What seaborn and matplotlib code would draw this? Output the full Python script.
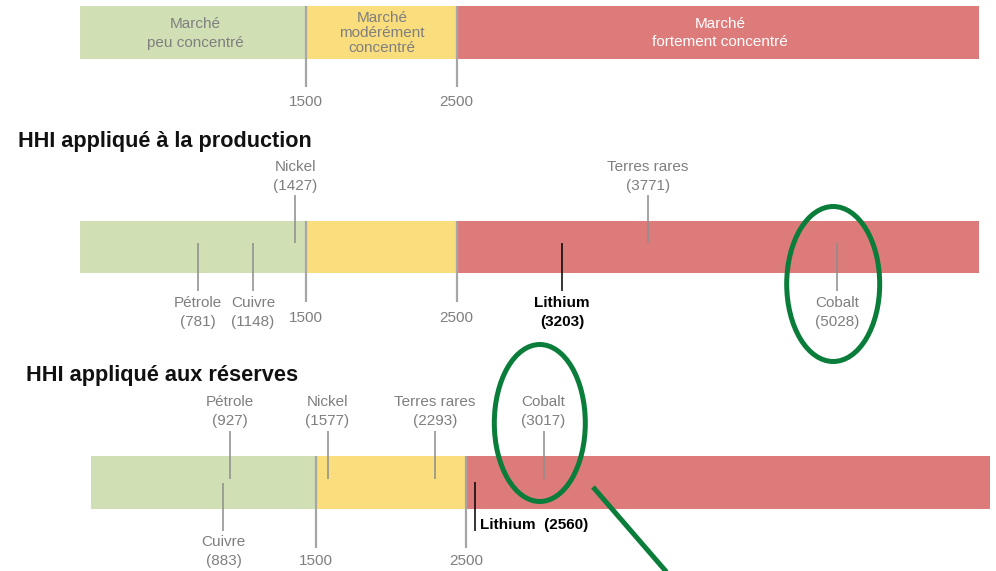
import numpy as np
import matplotlib
matplotlib.use("Agg")
import matplotlib.pyplot as plt
from matplotlib.patches import Ellipse
import seaborn as sns

sns.set_theme(style="white")
plt.rcParams['font.family'] = ['Liberation Sans', 'DejaVu Sans']

# --- Données ---
seuils = [1500, 2500]
zones_debut = [0, 1500, 2500]
zones_couleurs = ["#d0e0b4", "#fadd7d", "#dd7b7b"]
zones_textes = [["Marché", "peu concentré"],
                ["Marché", "modérément", "concentré"],
                ["Marché", "fortement concentré"]]
zones_textes_couleurs = ["#7f7f7f", "#7f7f7f", "white"]

prod_noms = ["Pétrole", "Cuivre", "Nickel", "Lithium", "Terres rares", "Cobalt"]
prod_valeurs = [781, 1148, 1427, 3203, 3771, 5028]
prod_cote = ["bas", "bas", "haut", "bas", "haut", "bas"]

res_noms = ["Pétrole", "Cuivre", "Nickel", "Lithium", "Terres rares", "Cobalt"]
res_valeurs = [927, 883, 1577, 2560, 2293, 3017]
res_cote = ["haut", "bas", "haut", "droite", "haut", "haut"]

gris_txt = "#7f7f7f"
gris_seuil = "#a6a6a6"
vert = "#0b7d3a"
fs = 11

W, H = 996, 571
fig = plt.figure(figsize=(W / 100, H / 100), dpi=100)


def make_ax(x0_px, scale, xmax):
    ax = fig.add_axes([x0_px / W, 0, scale * xmax / W, 1])
    ax.set_xlim(0, xmax)
    ax.set_ylim(H, 0)
    ax.axis("off")
    ax.patch.set_alpha(0)
    return ax


def draw_band(ax, xmax, y_top, y_bot, y_seuil_bas, y_tick):
    ends = zones_debut[1:] + [xmax]
    ax.barh((y_top + y_bot) / 2, np.array(ends) - np.array(zones_debut),
            left=zones_debut, height=y_bot - y_top, color=zones_couleurs,
            edgecolor="none")
    ax.vlines(seuils, y_top, y_seuil_bas, color=gris_seuil, lw=1.6)
    for s in seuils:
        ax.text(s, y_tick, str(s), ha="center", va="center", fontsize=fs,
                color=gris_txt)


def draw_markers(ax, noms, valeurs, cotes, y_top, y_bot, decal):
    y_mid = (y_top + y_bot) / 2
    for nom, val, cote in zip(noms, valeurs, cotes):
        fort = nom == "Lithium"
        col = "black" if fort else gris_txt
        lcol = "black" if fort else "#8c8c8c"
        fw = "bold" if fort else "normal"
        if cote == "haut":
            ax.vlines(val, y_mid - 52, y_mid - 4, color=lcol, lw=1.1)
            ax.text(val, y_mid - 80, nom, ha="center", va="center",
                    fontsize=fs, color=col, fontweight=fw)
            ax.text(val, y_mid - 61, f"({val})", ha="center", va="center",
                    fontsize=fs, color=col, fontweight=fw)
        elif cote == "bas":
            ax.vlines(val, y_mid + decal, y_mid + 48 + decal, color=lcol, lw=1.1)
            ax.text(val, y_mid + 60 + decal, nom, ha="center", va="center",
                    fontsize=fs, color=col, fontweight=fw)
            ax.text(val, y_mid + 79 + decal, f"({val})", ha="center",
                    va="center", fontsize=fs, color=col, fontweight=fw)
        else:
            ax.vlines(val, y_mid - 1, y_mid + 48, color=lcol, lw=1.1)
            ax.text(val + 30, y_mid + 43, f"{nom}  ({val})", ha="left",
                    va="center", fontsize=fs, color=col, fontweight=fw)


# --- Bandes 1 et 2 (même échelle) ---
sc_a, x0_a, xmax_a = 0.1505, 80.25, 5975
ax_a = make_ax(x0_a, sc_a, xmax_a)

# légende des zones
draw_band(ax_a, xmax_a, 6, 59, 87, 102)
centres = [195, 382, 720]
for cx, lignes, tc in zip(centres, zones_textes, zones_textes_couleurs):
    n = len(lignes)
    pas = 15 if n == 3 else 19
    y0 = 33 - pas * (n - 1) / 2
    for i, l in enumerate(lignes):
        ax_a.text((cx - x0_a) / sc_a, y0 + i * pas, l, ha="center",
                  va="center", fontsize=fs, color=tc)

# production
fig.text(18 / W, 1 - 141 / H, "HHI appliqué à la production", fontsize=15.6,
         fontweight="bold", ha="left", va="center", color="#111111")
draw_band(ax_a, xmax_a, 221, 273, 302, 318)
draw_markers(ax_a, prod_noms, prod_valeurs, prod_cote, 221, 273, -4)
ax_a.add_patch(Ellipse((prod_valeurs[-1] - 25, 284), 93 / sc_a, 155,
                       fill=False, edgecolor=vert, lw=3.6))

# --- Bande 3 ---
sc_b, x0_b, xmax_b = 0.150, 91, 5995
ax_b = make_ax(x0_b, sc_b, xmax_b)
fig.text(26 / W, 1 - 376 / H, "HHI appliqué aux réserves", fontsize=15.7,
         fontweight="bold", ha="left", va="center", color="#111111")
draw_band(ax_b, xmax_b, 456, 509, 548, 561)
draw_markers(ax_b, res_noms, res_valeurs, res_cote, 456, 509, 0)
ax_b.add_patch(Ellipse((res_valeurs[-1] - 25, 423), 91 / sc_b, 157,
                       fill=False, edgecolor=vert, lw=3.6))
ax_b.plot([(593 - x0_b) / sc_b, (670 - x0_b) / sc_b], [487, 576],
          color=vert, lw=3.6, clip_on=False, solid_capstyle="butt")

fig.savefig("out.png", dpi=100)
